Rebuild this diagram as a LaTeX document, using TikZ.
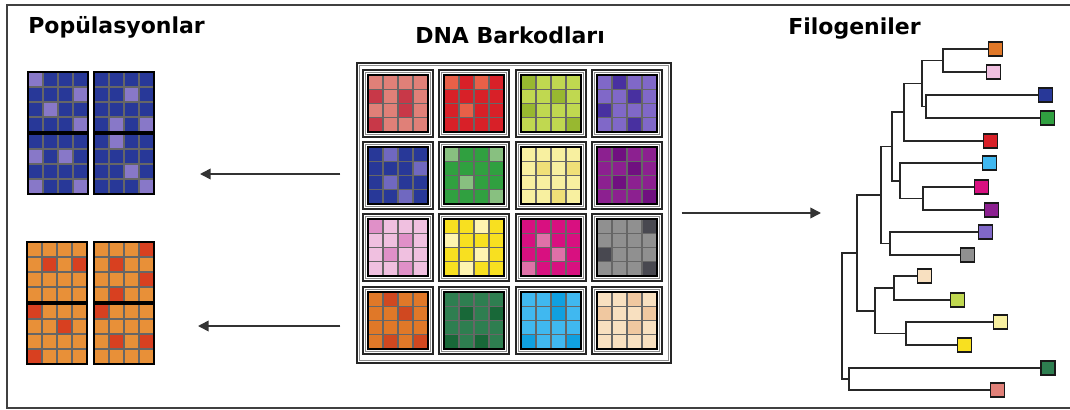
\documentclass[tikz,border=0pt]{standalone}
\usepackage{fontspec}
\setmainfont{DejaVu Sans}
\usepackage{xcolor}
\usetikzlibrary{arrows.meta,fit,calc}

\definecolor{salmonA}{HTML}{E08078}\definecolor{salmonB}{HTML}{C83848}
\definecolor{redA}{HTML}{D82028}\definecolor{redB}{HTML}{E86048}
\definecolor{limeA}{HTML}{C0D850}\definecolor{limeB}{HTML}{98B830}
\definecolor{violetA}{HTML}{8068C8}\definecolor{violetB}{HTML}{4830A0}
\definecolor{navyA}{HTML}{283898}\definecolor{navyB}{HTML}{7068C0}
\definecolor{greenA}{HTML}{30A040}\definecolor{greenB}{HTML}{88C080}
\definecolor{creamA}{HTML}{F8F0A0}\definecolor{creamB}{HTML}{F0E078}
\definecolor{plumA}{HTML}{8C2090}\definecolor{plumB}{HTML}{701080}
\definecolor{pinkA}{HTML}{F0C0E0}\definecolor{pinkB}{HTML}{E090C8}
\definecolor{yellowA}{HTML}{F8E020}\definecolor{yellowB}{HTML}{FFF4B0}
\definecolor{magentaA}{HTML}{D81080}\definecolor{magentaB}{HTML}{E070A8}
\definecolor{greyA}{HTML}{909090}\definecolor{greyB}{HTML}{484850}
\definecolor{orangeA}{HTML}{E07828}\definecolor{orangeB}{HTML}{D04820}
\definecolor{forestA}{HTML}{2E7E50}\definecolor{forestB}{HTML}{186838}
\definecolor{skyA}{HTML}{40B8F0}\definecolor{skyB}{HTML}{10A0E0}
\definecolor{beigeA}{HTML}{F8E0C0}\definecolor{beigeB}{HTML}{F0C8A0}
\definecolor{popblue}{HTML}{283898}\definecolor{poplilac}{HTML}{8878C8}
\definecolor{poporange}{HTML}{E89038}\definecolor{popred}{HTML}{D84020}

\newcommand{\barcodegrid}[7]{%
  \fill[#5] (#1,#2) rectangle ++({4*#3},{4*#4});
  \foreach \row/\col in {#7}
    \fill[#6] ({#1+(\col-1)*#3},{#2+(\row-1)*#4}) rectangle ++(#3,#4);
  \foreach \i in {1,2,3} {
    \draw[gridline] ({#1+\i*#3},#2) -- ++(0,{4*#4});
    \draw[gridline] (#1,{#2+\i*#4}) -- ++({4*#3},0);
  }
  \draw[gridframe] (#1,#2) rectangle ++({4*#3},{4*#4});
}
\newcommand{\barcodepanel}[5]{%
  \draw[panelframe] (#1,#2) rectangle ++(70,67);
  \draw[panelgap] ({#1+2.5},{#2+2.5}) rectangle ++(65,62);
  \barcodegrid{#1+5}{#2+5}{15}{14.25}{#3}{#4}{#5}%
}
\newcommand{\populationpanel}[5]{\barcodegrid{#1}{#2}{15}{15}{#3}{#4}{#5}}

\begin{document}
\begin{tikzpicture}[
    x=0.75pt, y=-0.75pt,
    title/.style={font=\bfseries\fontsize{16.5}{18}\selectfont, inner sep=0pt, anchor=base west},
    gridline/.style={draw=black!60, line width=1pt},
    gridframe/.style={draw=black, line width=1.2pt},
    panelframe/.style={draw=black!85, line width=1pt},
    panelgap/.style={draw=black!45, line width=0.7pt},
    frame/.style={draw=black!75, line width=1.5pt},
    flow/.style={-{Triangle[length=8pt,width=8pt]}, line width=1.2pt, draw=black!80},
    branch/.style={line width=1.4pt, draw=black!85},
    leaf/.style={draw=black!90, line width=1.3pt, minimum size=10.5pt, inner sep=0pt}
]
\useasboundingbox (0,0) rectangle (1070,410);
\draw[frame] (1072,5) -- (7,5) -- (7,408) -- (1072,408);

\node[title] (poptitle) at (28,34) {Popülasyonlar};
\node[title] (bartitle) at (415,44) {DNA Barkodları};
\node[title] (phylotitle) at (788,35) {Filogeniler};

\populationpanel{28}{72}{popblue}{poplilac}{1/1,2/4,3/2,4/4}
\populationpanel{94}{72}{popblue}{poplilac}{2/3,4/2,4/4}
\populationpanel{28}{134}{popblue}{poplilac}{2/1,2/3,4/1,4/4}
\populationpanel{94}{134}{popblue}{poplilac}{1/2,3/3,4/4}
\populationpanel{27}{242}{poporange}{popred}{2/2,2/4}
\populationpanel{94}{242}{poporange}{popred}{1/4,2/2,3/4,4/2}
\populationpanel{27}{304}{poporange}{popred}{1/1,2/3,4/1}
\populationpanel{94}{304}{poporange}{popred}{1/1,3/2,3/4}

\coordinate (bnw) at (357,63);
\coordinate (bse) at (671,363);
\node[fit=(bnw)(bse), inner sep=0pt, draw=black!85, line width=1.1pt] (barcodes) {};
\draw[panelgap] ([shift={(3,3)}]barcodes.north west) rectangle ([shift={(-3,-3)}]barcodes.south east);

\barcodepanel{363}{70}{salmonA}{salmonB}{2/1,2/3,3/3,4/1}
\barcodepanel{439}{70}{redA}{redB}{1/1,1/3,3/2}
\barcodepanel{516}{70}{limeA}{limeB}{1/1,2/3,3/1,4/4}
\barcodepanel{592}{70}{violetA}{violetB}{1/2,2/3,3/1,4/3}
\barcodepanel{363}{142}{navyA}{navyB}{1/2,2/4,3/2,4/3}
\barcodepanel{439}{142}{greenA}{greenB}{1/1,1/4,3/2,4/4}
\barcodepanel{516}{142}{creamA}{creamB}{2/2,2/4,4/3}
\barcodepanel{592}{142}{plumA}{plumB}{1/2,2/3,3/2,4/4}
\barcodepanel{363}{214}{pinkA}{pinkB}{1/1,2/3,3/2,4/3}
\barcodepanel{439}{214}{yellowA}{yellowB}{1/3,2/1,3/3,4/2}
\barcodepanel{516}{214}{magentaA}{magentaB}{2/2,3/3,4/1}
\barcodepanel{592}{214}{greyA}{greyB}{1/4,3/1,4/4}
\barcodepanel{363}{287}{orangeA}{orangeB}{1/2,2/3,4/2,4/4}
\barcodepanel{439}{287}{forestA}{forestB}{2/2,2/4,4/1,4/3}
\barcodepanel{516}{287}{skyA}{skyB}{1/3,2/3,4/1,4/4}
\barcodepanel{592}{287}{beigeA}{beigeB}{1/3,2/1,2/4,3/3}

\coordinate (bluetip) at (200,174);
\coordinate (orangetip) at (198,326);
\coordinate (treetip) at (821,213);
\draw[flow, shorten <=12pt] (barcodes.west |- bluetip) -- (bluetip);
\draw[flow, shorten <=12pt] (barcodes.west |- orangetip) -- (orangetip);
\draw[flow, shorten <=7.5pt] (barcodes.east |- treetip) -- (treetip);

\node[leaf, fill=orangeA] (l1) at (995.5,49) {};
\node[leaf, fill=pinkA] (l2) at (993.5,72) {};
\node[leaf, fill=navyA] (l3) at (1045.5,95) {};
\node[leaf, fill=greenA] (l4) at (1047.5,118) {};
\node[leaf, fill=redA] (l5) at (990.5,141) {};
\node[leaf, fill=skyA] (l6) at (989.5,163) {};
\node[leaf, fill=magentaA] (l7) at (981.5,187) {};
\node[leaf, fill=plumA] (l8) at (991.5,210) {};
\node[leaf, fill=violetA] (l9) at (985.5,232) {};
\node[leaf, fill=greyA] (l10) at (967.5,255) {};
\node[leaf, fill=beigeA] (l11) at (924.5,276) {};
\node[leaf, fill=limeA] (l12) at (957.5,300) {};
\node[leaf, fill=creamA] (l13) at (1000.5,322) {};
\node[leaf, fill=yellowA] (l14) at (964.5,345) {};
\node[leaf, fill=forestA] (l15) at (1048,368) {};
\node[leaf, fill=salmonA] (l16) at (997.5,390) {};

\coordinate (A) at (943,60.5);
\coordinate (B) at (926,106.5);
\coordinate (C) at (922,83.5);
\coordinate (D) at (904,112.25);
\coordinate (F) at (923,198.5);
\coordinate (E) at (900,180.75);
\coordinate (H) at (892,146.5);
\coordinate (I) at (890,243.5);
\coordinate (G) at (881,195);
\coordinate (L) at (894,288);
\coordinate (M) at (906,333.5);
\coordinate (K) at (875,310.75);
\coordinate (J) at (857,252.9);
\coordinate (O) at (849,379);
\coordinate (N) at (842,315.9);

\foreach \p/\q in {A/l1,A/l2,B/l3,B/l4,C/A,C/B,D/C,D/l5,F/l7,F/l8,E/l6,E/F,H/D,H/E,
                   I/l9,I/l10,G/H,G/I,L/l11,L/l12,M/l13,M/l14,K/L,K/M,J/G,J/K,O/l15,O/l16,N/J,N/O}
  \draw[branch] (\p) |- (\q);
\end{tikzpicture}
\end{document}
